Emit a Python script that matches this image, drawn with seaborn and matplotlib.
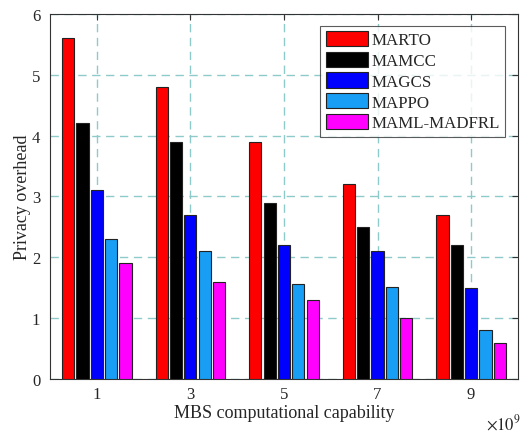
import pandas as pd
import matplotlib.pyplot as plt
import seaborn as sns

# data
capability = [1, 3, 5, 7, 9]
methods = ['MARTO', 'MAMCC', 'MAGCS', 'MAPPO', 'MAML-MADFRL']
marto = [5.6, 4.8, 3.9, 3.2, 2.7]
mamcc = [4.2, 3.9, 2.9, 2.5, 2.2]
magcs = [3.1, 2.7, 2.2, 2.1, 1.5]
mappo = [2.3, 2.1, 1.56, 1.52, 0.8]
maml = [1.9, 1.6, 1.3, 1.0, 0.6]
colors = ['#ff0000', '#000000', '#0000ff', '#189ef5', '#ff00ff']

rows = []
for name, vals in zip(methods, [marto, mamcc, magcs, mappo, maml]):
    for c, v in zip(capability, vals):
        rows.append({'cap': c, 'method': name, 'overhead': v})
df = pd.DataFrame(rows)

sns.set_style('white')
plt.rcParams['font.family'] = ['Liberation Serif', 'DejaVu Serif']
plt.rcParams['mathtext.fontset'] = 'stix'

fig = plt.figure(figsize=(5.21, 4.35), dpi=100)
ax = fig.add_axes([0.096, 0.126, 0.898, 0.840])

sns.barplot(data=df, x='cap', y='overhead', hue='method', hue_order=methods,
            palette=colors, saturation=1, native_scale=True, width=0.766,
            gap=0.15, edgecolor='#222222', linewidth=0.8, errorbar=None,
            ax=ax, zorder=3)

ax.set_xlim(0, 10)
ax.set_ylim(0, 6)
ax.set_xticks(capability)
ax.set_yticks(range(7))
ax.grid(True, linestyle=(0, (6, 4)), color='#8fcaca', linewidth=1.0, zorder=0)
ax.set_axisbelow(True)
ax.tick_params(direction='in', top=True, right=True, length=4, labelsize=12,
               color='#333333', pad=7)
ax.tick_params(axis='x', pad=5)
for s in ax.spines.values():
    s.set_color('#333333')
    s.set_linewidth(0.8)

ax.set_xlabel('MBS computational capability', fontsize=13, labelpad=1)
ax.set_ylabel('Privacy overhead', fontsize=13, labelpad=0.5)
fig.text(0.932, 0.012, r'$\times10^9$', fontsize=12)

leg = ax.legend(loc='upper right', bbox_to_anchor=(0.972, 0.967), fontsize=12.2,
                frameon=True, fancybox=False, edgecolor='#333333',
                handlelength=2.5, handleheight=1.0, handletextpad=0.2,
                labelspacing=0.2, borderpad=0.3, borderaxespad=0)
leg.get_frame().set_linewidth(0.8)

fig.savefig('out.png', dpi=100)
